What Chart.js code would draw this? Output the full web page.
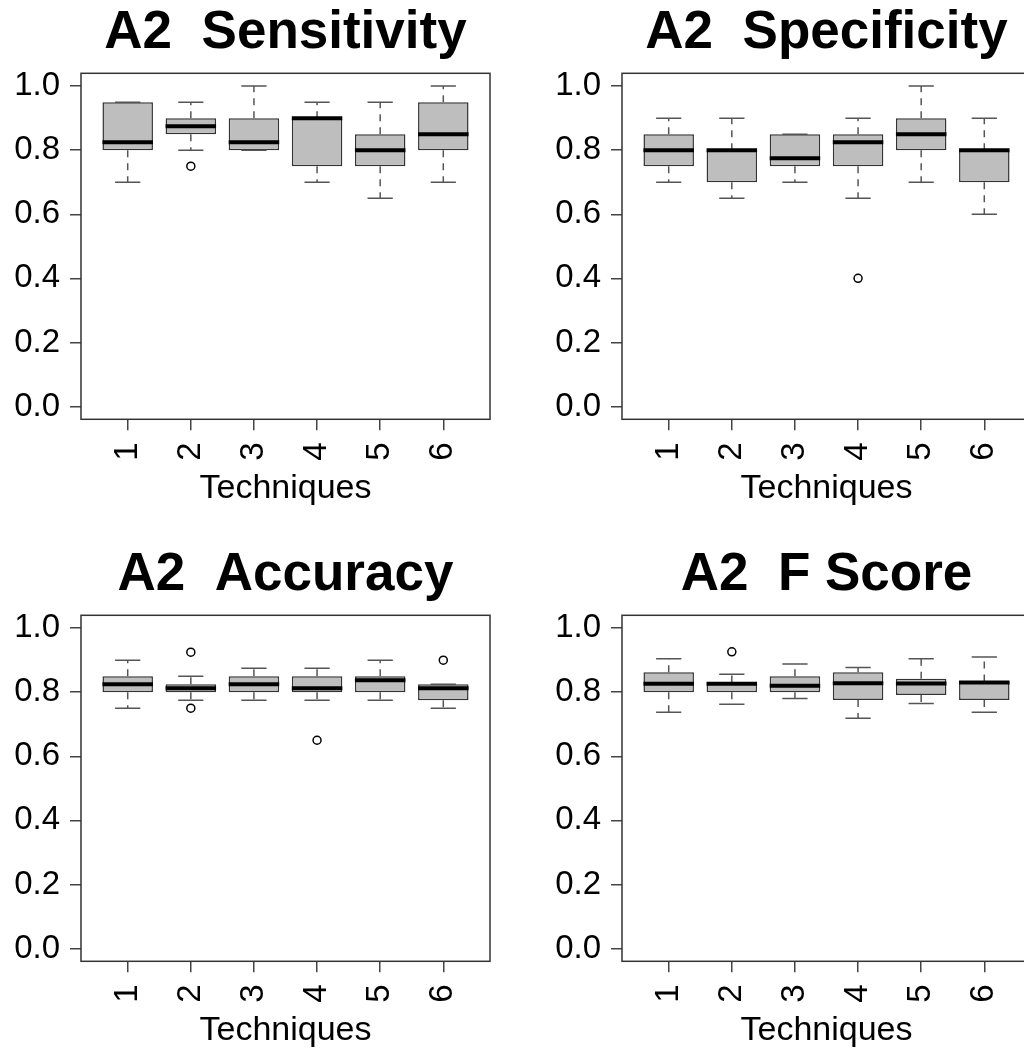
<!DOCTYPE html>
<html>
<head>
<meta charset="utf-8">
<title>A2 box plots</title>
<script src="https://cdn.jsdelivr.net/npm/chart.js@4.4.1/dist/chart.umd.min.js"></script>
<style>
  html, body { margin: 0; padding: 0; background: #fff; }
  #fig { position: relative; width: 1024px; height: 1053px; overflow: hidden; background: #fff; }
  .panel { position: absolute; width: 541px; height: 541px; }
  .panel canvas { display: block; }
</style>
</head>
<body>
<div id="fig">
  <div class="panel" style="left:0px;top:0px"><canvas id="sens" width="541" height="541"></canvas></div>
  <div class="panel" style="left:541px;top:0px"><canvas id="spec" width="541" height="541"></canvas></div>
  <div class="panel" style="left:0px;top:542px"><canvas id="acc" width="541" height="541"></canvas></div>
  <div class="panel" style="left:541px;top:542px"><canvas id="fsc" width="541" height="541"></canvas></div>
</div>
<script>
// Techniques on the x axis and the y tick values
const techniques = [1, 2, 3, 4, 5, 6];
const techniqueLabels = ['1', '2', '3', '4', '5', '6'];
const yTicks = [0, 0.2, 0.4, 0.6, 0.8, 1.0];

// Sensitivity: whisker ends, quartiles, medians, outliers
const sensLow  = [0.70, 0.80, 0.80, 0.70, 0.65, 0.70];
const sensQ1   = [0.80, 0.85, 0.80, 0.75, 0.75, 0.80];
const sensMed  = [0.825, 0.875, 0.825, 0.90, 0.80, 0.85];
const sensQ3   = [0.95, 0.90, 0.90, 0.90, 0.85, 0.95];
const sensHigh = [0.95, 0.95, 1.00, 0.95, 0.95, 1.00];
const sensOut  = [[], [0.75], [], [], [], []];

// Specificity
const specLow  = [0.70, 0.65, 0.70, 0.65, 0.70, 0.60];
const specQ1   = [0.75, 0.70, 0.75, 0.75, 0.80, 0.70];
const specMed  = [0.80, 0.80, 0.775, 0.825, 0.85, 0.80];
const specQ3   = [0.85, 0.80, 0.85, 0.85, 0.90, 0.80];
const specHigh = [0.90, 0.90, 0.85, 0.90, 1.00, 0.90];
const specOut  = [[], [], [], [0.40], [], []];

// Accuracy
const accLow  = [0.75, 0.775, 0.775, 0.775, 0.775, 0.75];
const accQ1   = [0.80, 0.80, 0.80, 0.80, 0.80, 0.775];
const accMed  = [0.825, 0.8125, 0.825, 0.8125, 0.8375, 0.8125];
const accQ3   = [0.85, 0.825, 0.85, 0.85, 0.85, 0.825];
const accHigh = [0.90, 0.85, 0.875, 0.875, 0.90, 0.825];
const accOut  = [[], [0.925, 0.75], [], [0.65], [], [0.90]];

// F Score
const fLow  = [0.737, 0.762, 0.780, 0.719, 0.765, 0.737];
const fQ1   = [0.800, 0.800, 0.800, 0.776, 0.791, 0.776];
const fMed  = [0.826, 0.826, 0.820, 0.828, 0.827, 0.830];
const fQ3   = [0.862, 0.830, 0.850, 0.862, 0.842, 0.833];
const fHigh = [0.904, 0.856, 0.888, 0.877, 0.904, 0.910];
const fOut  = [[], [0.926], [], [], [], []];

const FONT = '"Liberation Sans", Arial, Helvetica, sans-serif';
const BOX_WIDTH = 0.8;      // box width in x units
const STAPLE_WIDTH = 0.4;   // whisker cap width in x units

// Plot frame around the chart area
const framePlugin = {
  id: 'frame',
  afterDatasetsDraw(chart) {
    const { ctx, chartArea: a } = chart;
    ctx.save();
    ctx.strokeStyle = '#333';
    ctx.lineWidth = 1.5;
    ctx.strokeRect(a.left, a.top, a.right - a.left, a.bottom - a.top);
    ctx.restore();
  }
};

function segments(pairs) {
  // pairs: [[x0,y0,x1,y1], ...] -> points with gaps between segments
  const pts = [];
  pairs.forEach(([x0, y0, x1, y1]) => {
    pts.push({ x: x0, y: y0 }, { x: x1, y: y1 }, { x: x1, y: null });
  });
  return pts;
}

function makePanel(id, title, low, q1, med, q3, high, out) {
  const boxes = techniques.map((t, i) => ({ x: t, y: [q1[i], q3[i]] }));
  const medians = segments(techniques.map((t, i) =>
    [t - BOX_WIDTH / 2, med[i], t + BOX_WIDTH / 2, med[i]]));
  const whiskers = [];
  techniques.forEach((t, i) => {
    if (high[i] > q3[i]) whiskers.push([t, q3[i], t, high[i]]);
    if (low[i] < q1[i]) whiskers.push([t, q1[i], t, low[i]]);
  });
  const staples = [];
  techniques.forEach((t, i) => {
    staples.push([t - STAPLE_WIDTH / 2, high[i], t + STAPLE_WIDTH / 2, high[i]]);
    staples.push([t - STAPLE_WIDTH / 2, low[i], t + STAPLE_WIDTH / 2, low[i]]);
  });
  const outliers = [];
  techniques.forEach((t, i) => out[i].forEach(v => outliers.push({ x: t, y: v })));

  new Chart(document.getElementById(id), {
    type: 'bar',
    data: {
      datasets: [
        {
          type: 'bar', data: boxes, order: 4,
          backgroundColor: '#bebebe', borderColor: '#333', borderWidth: 1.5,
          borderSkipped: false, barPercentage: BOX_WIDTH, categoryPercentage: 1
        },
        {
          type: 'line', data: segments(whiskers), order: 3, spanGaps: false,
          borderColor: '#555', borderWidth: 1.5, borderDash: [7, 6],
          pointRadius: 0, fill: false, tension: 0
        },
        {
          type: 'line', data: segments(staples), order: 2, spanGaps: false,
          borderColor: '#555', borderWidth: 1.5,
          pointRadius: 0, fill: false, tension: 0
        },
        {
          type: 'line', data: medians, order: 1, spanGaps: false,
          borderColor: '#000', borderWidth: 4, borderCapStyle: 'butt',
          pointRadius: 0, fill: false, tension: 0
        },
        {
          type: 'line', data: outliers, order: 0, showLine: false,
          pointStyle: 'circle', pointRadius: 4, pointBorderWidth: 1.5,
          pointBackgroundColor: '#fff', pointBorderColor: '#000'
        }
      ]
    },
    options: {
      responsive: false,
      animation: false,
      events: [],
      layout: { padding: { left: 0, right: 51, top: 0, bottom: 0 } },
      plugins: {
        legend: { display: false },
        tooltip: { enabled: false },
        title: {
          display: true, text: title, fullSize: false, color: '#000',
          font: { family: FONT, size: 53, weight: 'bold', lineHeight: 1.0 },
          padding: { top: 7, bottom: 13.3 }
        }
      },
      scales: {
        x: {
          type: 'linear', min: 0.26, max: 6.74, offset: false,
          afterBuildTicks: s => { s.ticks = techniques.map(v => ({ value: v })); },
          afterFit: s => { s.height = 121.7; },
          border: { display: false },
          grid: { offset: false, drawOnChartArea: false, drawTicks: true, tickLength: 11, color: '#444', lineWidth: 1.5 },
          ticks: {
            autoSkip: false, minRotation: 90, maxRotation: 90, padding: 12, color: '#000',
            font: { family: FONT, size: 33 },
            callback: v => techniqueLabels[techniques.indexOf(v)]
          },
          title: {
            display: true, text: 'Techniques', color: '#000',
            font: { family: FONT, size: 34 }, padding: { top: 0, bottom: 32 }
          }
        },
        y: {
          min: -0.04, max: 1.04,
          afterBuildTicks: s => { s.ticks = yTicks.map(v => ({ value: v })); },
          afterFit: s => { s.width = 81; },
          border: { display: false },
          grid: { offset: false, drawOnChartArea: false, drawTicks: true, tickLength: 11, color: '#444', lineWidth: 1.5 },
          ticks: {
            padding: 10, color: '#000',
            font: { family: FONT, size: 33 },
            callback: v => v.toFixed(1)
          }
        }
      }
    },
    plugins: [framePlugin]
  });
}

makePanel('sens', 'A2  Sensitivity', sensLow, sensQ1, sensMed, sensQ3, sensHigh, sensOut);
makePanel('spec', 'A2  Specificity', specLow, specQ1, specMed, specQ3, specHigh, specOut);
makePanel('acc',  'A2  Accuracy',    accLow,  accQ1,  accMed,  accQ3,  accHigh,  accOut);
makePanel('fsc',  'A2  F Score',     fLow,    fQ1,    fMed,    fQ3,    fHigh,    fOut);
</script>
</body>
</html>
